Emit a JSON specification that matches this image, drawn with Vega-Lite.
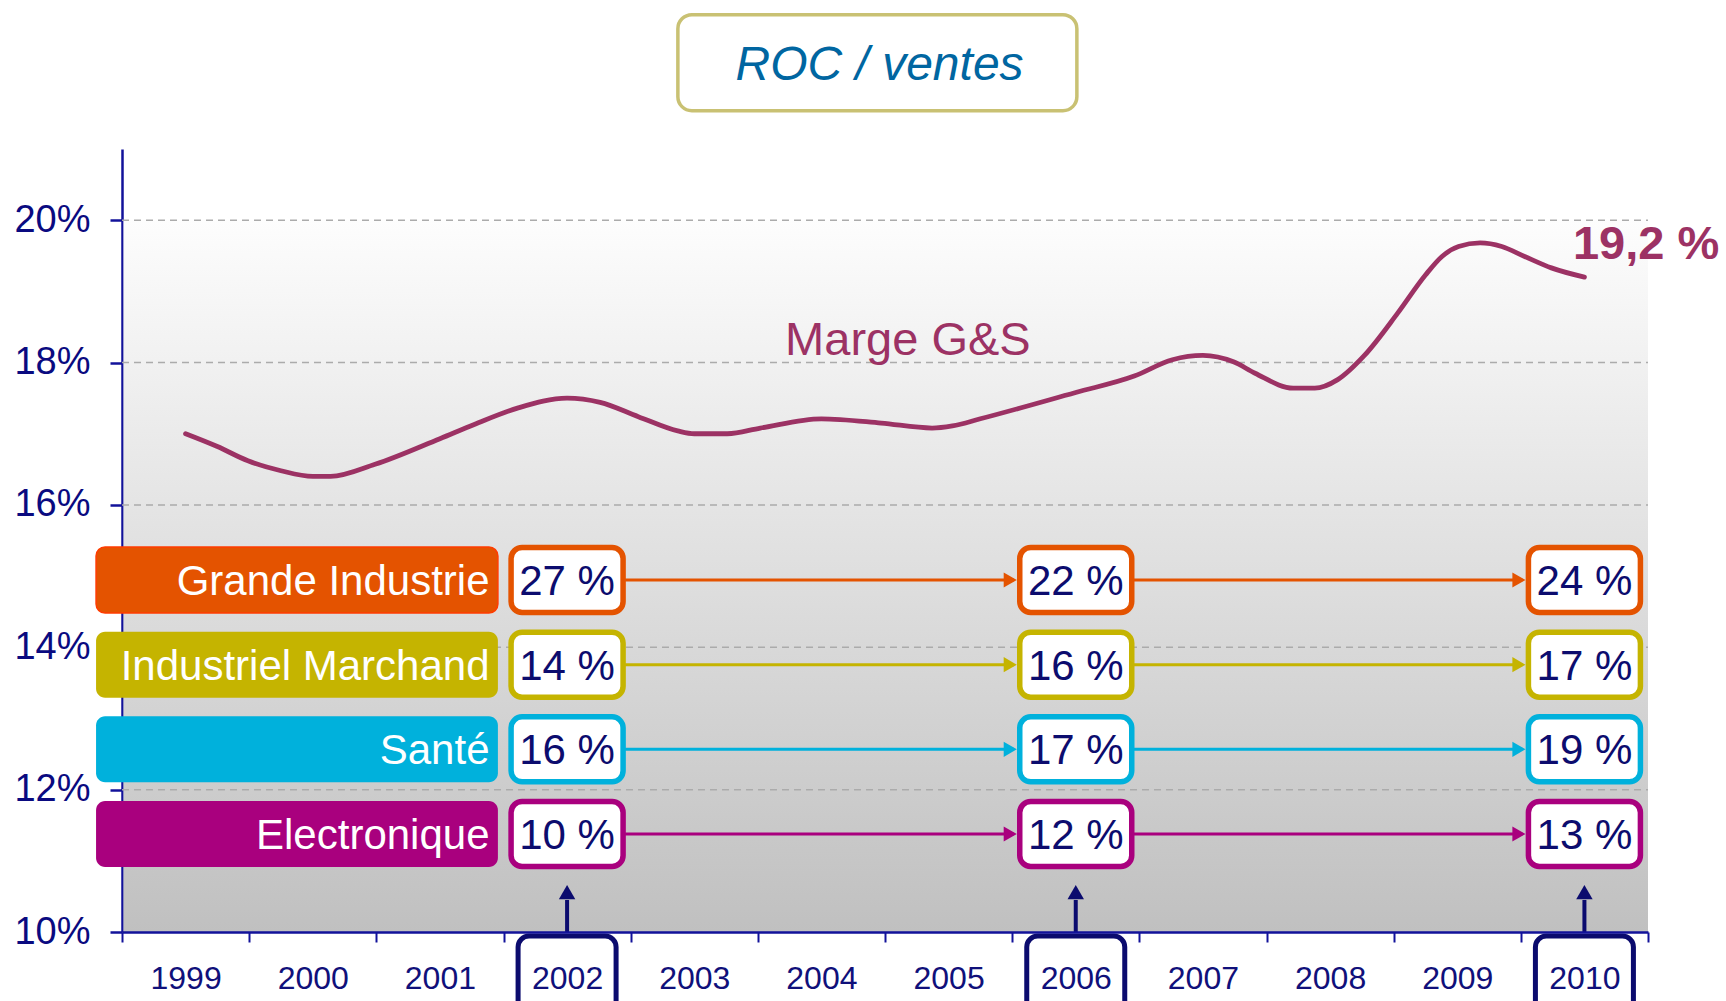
{
  "$schema": "https://vega.github.io/schema/vega-lite/v6.json",
  "width": 1526,
  "height": 783,
  "autosize": {"type": "none"},
  "padding": {"left": 122, "top": 149, "right": 78, "bottom": 69},
  "background": "#ffffff",
  "config": {"view": {"stroke": null}, "font": "Liberation Sans"},
  "datasets": {
    "marge": [
      {"year": 1999.0, "pct": 17.0},
      {"year": 1999.25, "pct": 16.82},
      {"year": 1999.49, "pct": 16.62},
      {"year": 1999.75, "pct": 16.48},
      {"year": 2000.0, "pct": 16.4},
      {"year": 2000.14, "pct": 16.4},
      {"year": 2000.49, "pct": 16.57},
      {"year": 2001.0, "pct": 16.93},
      {"year": 2001.27, "pct": 17.13},
      {"year": 2001.61, "pct": 17.36},
      {"year": 2002.0, "pct": 17.5},
      {"year": 2002.26, "pct": 17.44},
      {"year": 2002.56, "pct": 17.24},
      {"year": 2002.87, "pct": 17.04},
      {"year": 2003.0, "pct": 17.0},
      {"year": 2003.26, "pct": 17.0},
      {"year": 2003.52, "pct": 17.08},
      {"year": 2004.0, "pct": 17.21},
      {"year": 2004.47, "pct": 17.15},
      {"year": 2004.87, "pct": 17.08},
      {"year": 2005.03, "pct": 17.11},
      {"year": 2005.25, "pct": 17.21},
      {"year": 2006.0, "pct": 17.58},
      {"year": 2006.46, "pct": 17.81},
      {"year": 2006.76, "pct": 18.04},
      {"year": 2007.0, "pct": 18.1},
      {"year": 2007.24, "pct": 18.01},
      {"year": 2007.41, "pct": 17.85},
      {"year": 2007.71, "pct": 17.64},
      {"year": 2007.88, "pct": 17.64},
      {"year": 2008.06, "pct": 17.76},
      {"year": 2008.27, "pct": 18.1},
      {"year": 2008.53, "pct": 18.69},
      {"year": 2008.75, "pct": 19.23},
      {"year": 2008.88, "pct": 19.49},
      {"year": 2009.01, "pct": 19.63},
      {"year": 2009.18, "pct": 19.68},
      {"year": 2009.35, "pct": 19.63},
      {"year": 2009.53, "pct": 19.49},
      {"year": 2009.74, "pct": 19.33},
      {"year": 2010.0, "pct": 19.2}
    ],
    "grid": [{"v": 12}, {"v": 14}, {"v": 16}, {"v": 18}, {"v": 20}],
    "highlight": [{"year": 2002}, {"year": 2006}, {"year": 2010}],
    "segments": [
      {"cat": "Grande Industrie", "rank": 1},
      {"cat": "Industriel Marchand", "rank": 2},
      {"cat": "Santé", "rank": 3},
      {"cat": "Electronique", "rank": 4}
    ],
    "shares": [
      {"cat": "Grande Industrie", "year": 2002, "share": "27 %"},
      {"cat": "Grande Industrie", "year": 2006, "share": "22 %"},
      {"cat": "Grande Industrie", "year": 2010, "share": "24 %"},
      {"cat": "Industriel Marchand", "year": 2002, "share": "14 %"},
      {"cat": "Industriel Marchand", "year": 2006, "share": "16 %"},
      {"cat": "Industriel Marchand", "year": 2010, "share": "17 %"},
      {"cat": "Santé", "year": 2002, "share": "16 %"},
      {"cat": "Santé", "year": 2006, "share": "17 %"},
      {"cat": "Santé", "year": 2010, "share": "19 %"},
      {"cat": "Electronique", "year": 2002, "share": "10 %"},
      {"cat": "Electronique", "year": 2006, "share": "12 %"},
      {"cat": "Electronique", "year": 2010, "share": "13 %"}
    ],
    "arrows": [
      {"cat": "Grande Industrie", "from": 2002, "to": 2006},
      {"cat": "Grande Industrie", "from": 2006, "to": 2010},
      {"cat": "Industriel Marchand", "from": 2002, "to": 2006},
      {"cat": "Industriel Marchand", "from": 2006, "to": 2010},
      {"cat": "Santé", "from": 2002, "to": 2006},
      {"cat": "Santé", "from": 2006, "to": 2010},
      {"cat": "Electronique", "from": 2002, "to": 2006},
      {"cat": "Electronique", "from": 2006, "to": 2010}
    ],
    "one": [{}]
  },
  "resolve": {"scale": {"y": "independent"}},
  "layer": [
    {
      "layer": [
        {
          "data": {"name": "one"},
          "mark": {
            "type": "rect",
            "xOffset": 1.5,
            "fill": {
              "gradient": "linear",
              "x1": 0, "y1": 0, "x2": 0, "y2": 1,
              "stops": [
                {"offset": 0, "color": "#fdfdfd"},
                {"offset": 1, "color": "#c0c0c0"}
              ]
            }
          },
          "encoding": {
            "x": {"datum": 1998.5, "type": "quantitative"},
            "x2": {"datum": 2010.5},
            "y": {"datum": 20, "type": "quantitative"},
            "y2": {"datum": 10}
          }
        },
        {
          "data": {"name": "grid"},
          "mark": {"type": "rule", "color": "#ababab", "strokeWidth": 1.5, "strokeDash": [7, 5]},
          "encoding": {
            "y": {"field": "v", "type": "quantitative"},
            "x": {"datum": 1998.5, "type": "quantitative"},
            "x2": {"datum": 2010.5}
          }
        },
        {
          "data": {"name": "marge"},
          "mark": {"type": "line", "color": "#9c3264", "strokeWidth": 4.8, "interpolate": "monotone", "strokeCap": "round"},
          "encoding": {
            "x": {
              "field": "year",
              "type": "quantitative",
              "scale": {"domain": [1998.5, 2010.5], "nice": false, "zero": false},
              "axis": {
                "title": null,
                "grid": false,
                "zindex": 1,
                "values": [1998.5, 1999, 1999.5, 2000, 2000.5, 2001, 2001.5, 2002, 2002.5, 2003, 2003.5, 2004, 2004.5, 2005, 2005.5, 2006, 2006.5, 2007, 2007.5, 2008, 2008.5, 2009, 2009.5, 2010, 2010.5],
                "labelExpr": "datum.value % 1 == 0 ? format(datum.value, 'd') : ''",
                "tickOpacity": {"condition": {"test": "datum.value % 1 != 0", "value": 1}, "value": 0},
                "tickSize": 10,
                "tickWidth": 2,
                "tickColor": "#12129a",
                "domainColor": "#12129a",
                "domainWidth": 2.5,
                "labelFont": "Liberation Sans",
                "labelFontSize": 32,
                "labelColor": "#10107a",
                "labelPadding": 21,
                "labelOverlap": false,
                "labelFlush": false,
                "labelBound": false
              }
            },
            "y": {
              "field": "pct",
              "type": "quantitative",
              "scale": {"domain": [10, 21], "nice": false, "zero": false},
              "axis": {
                "title": null,
                "grid": false,
                "values": [10, 12, 14, 16, 18, 20],
                "labelExpr": "datum.value + '%'",
                "tickSize": 12,
                "tickWidth": 2.5,
                "tickColor": "#12129a",
                "domainColor": "#12129a",
                "domainWidth": 2.5,
                "labelFont": "Liberation Sans",
                "labelFontSize": 38,
                "labelColor": "#0a0a80",
                "labelPadding": 20
              }
            }
          }
        },
        {
          "data": {"name": "one"},
          "mark": {"type": "text", "text": "Marge G&S", "fontSize": 47, "color": "#9c3264", "align": "center", "baseline": "alphabetic"},
          "encoding": {
            "x": {"datum": 2004.68, "type": "quantitative"},
            "y": {"datum": 18.11, "type": "quantitative"}
          }
        },
        {
          "data": {"name": "one"},
          "mark": {"type": "text", "text": "19,2 %", "fontSize": 47, "fontWeight": "bold", "color": "#9c3264", "align": "left", "baseline": "alphabetic"},
          "encoding": {
            "x": {"datum": 2009.91, "type": "quantitative"},
            "y": {"datum": 19.452, "type": "quantitative"}
          }
        },
        {
          "data": {"name": "one"},
          "mark": {"type": "rect", "width": 399, "height": 96, "fill": "#ffffff", "stroke": "#c9c173", "strokeWidth": 3.5, "cornerRadius": 14},
          "encoding": {
            "x": {"datum": 2004.44, "type": "quantitative"},
            "y": {"datum": 22.212, "type": "quantitative"}
          }
        },
        {
          "data": {"name": "one"},
          "mark": {"type": "text", "text": "ROC / ventes", "fontSize": 48, "fontStyle": "italic", "color": "#0066a1", "align": "center", "baseline": "alphabetic"},
          "encoding": {
            "x": {"datum": 2004.457, "type": "quantitative"},
            "y": {"datum": 21.966, "type": "quantitative"}
          }
        },
        {
          "data": {"name": "highlight"},
          "mark": {"type": "rect", "width": 98, "fill": "transparent", "stroke": "#0b0b6e", "strokeWidth": 5, "cornerRadius": 11},
          "encoding": {
            "x": {"field": "year", "type": "quantitative"},
            "y": {"datum": 9.944, "type": "quantitative"},
            "y2": {"datum": 8.8}
          }
        },
        {
          "data": {"name": "highlight"},
          "mark": {"type": "rule", "color": "#0b0b6e", "strokeWidth": 4},
          "encoding": {
            "x": {"field": "year", "type": "quantitative"},
            "y": {"datum": 10, "type": "quantitative"},
            "y2": {"datum": 10.45}
          }
        },
        {
          "data": {"name": "highlight"},
          "mark": {"type": "point", "shape": "triangle-up", "filled": true, "opacity": 1, "size": 270, "color": "#0b0b6e"},
          "encoding": {
            "x": {"field": "year", "type": "quantitative"},
            "y": {"datum": 10.56, "type": "quantitative"}
          }
        }
      ]
    },
    {
      "layer": [
        {
          "data": {"name": "segments"},
          "mark": {"type": "rect", "cornerRadius": 9, "height": 66, "stroke": {"expr": "datum.rank == 1 ? '#ff3c00' : null"}, "strokeWidth": 1.5},
          "encoding": {
            "y": {"field": "rank", "type": "quantitative", "axis": null, "scale": {"domain": [5.157, -4.09], "nice": false, "zero": false}},
            "x": {"datum": 1998.296, "type": "quantitative"},
            "x2": {"datum": 2001.456},
            "fill": {"field": "cat", "type": "nominal", "legend": null, "scale": {"domain": ["Grande Industrie", "Industriel Marchand", "Santé", "Electronique"], "range": ["#e45300", "#c5b400", "#00b1dc", "#a9007e"]}}
          }
        },
        {
          "data": {"name": "segments"},
          "mark": {"type": "text", "align": "right", "baseline": "middle", "fontSize": 42, "color": "#ffffff", "dy": 2},
          "encoding": {
            "y": {"field": "rank", "type": "quantitative", "axis": null, "scale": {"domain": [5.157, -4.09], "nice": false, "zero": false}},
            "x": {"datum": 2001.39, "type": "quantitative"},
            "text": {"field": "cat"}
          }
        },
        {
          "data": {"name": "arrows"},
          "transform": [{"lookup": "cat", "from": {"data": {"name": "segments"}, "key": "cat", "fields": ["rank"]}}],
          "mark": {"type": "rule", "strokeWidth": 3, "xOffset": 58, "x2Offset": -62},
          "encoding": {
            "y": {"field": "rank", "type": "quantitative", "axis": null, "scale": {"domain": [5.157, -4.09], "nice": false, "zero": false}},
            "x": {"field": "from", "type": "quantitative"},
            "x2": {"field": "to"},
            "color": {"field": "cat", "type": "nominal", "legend": null, "scale": {"domain": ["Grande Industrie", "Industriel Marchand", "Santé", "Electronique"], "range": ["#e45300", "#c5b400", "#00b1dc", "#a9007e"]}}
          }
        },
        {
          "data": {"name": "arrows"},
          "transform": [{"lookup": "cat", "from": {"data": {"name": "segments"}, "key": "cat", "fields": ["rank"]}}],
          "mark": {"type": "point", "shape": "triangle-right", "filled": true, "opacity": 1, "size": 230, "xOffset": -65.5},
          "encoding": {
            "y": {"field": "rank", "type": "quantitative", "axis": null, "scale": {"domain": [5.157, -4.09], "nice": false, "zero": false}},
            "x": {"field": "to", "type": "quantitative"},
            "color": {"field": "cat", "type": "nominal", "legend": null, "scale": {"domain": ["Grande Industrie", "Industriel Marchand", "Santé", "Electronique"], "range": ["#e45300", "#c5b400", "#00b1dc", "#a9007e"]}}
          }
        },
        {
          "data": {"name": "shares"},
          "transform": [{"lookup": "cat", "from": {"data": {"name": "segments"}, "key": "cat", "fields": ["rank"]}}],
          "mark": {"type": "rect", "fill": "#ffffff", "strokeWidth": 5.5, "cornerRadius": 11, "width": 112, "height": 65},
          "encoding": {
            "y": {"field": "rank", "type": "quantitative", "axis": null, "scale": {"domain": [5.157, -4.09], "nice": false, "zero": false}},
            "x": {"field": "year", "type": "quantitative"},
            "stroke": {"field": "cat", "type": "nominal", "legend": null, "scale": {"domain": ["Grande Industrie", "Industriel Marchand", "Santé", "Electronique"], "range": ["#e45300", "#c5b400", "#00b1dc", "#a9007e"]}}
          }
        },
        {
          "data": {"name": "shares"},
          "transform": [{"lookup": "cat", "from": {"data": {"name": "segments"}, "key": "cat", "fields": ["rank"]}}],
          "mark": {"type": "text", "fontSize": 42, "color": "#0c0c6e", "align": "center", "baseline": "middle", "dy": 2},
          "encoding": {
            "y": {"field": "rank", "type": "quantitative", "axis": null, "scale": {"domain": [5.157, -4.09], "nice": false, "zero": false}},
            "x": {"field": "year", "type": "quantitative"},
            "text": {"field": "share"}
          }
        }
      ]
    }
  ]
}
